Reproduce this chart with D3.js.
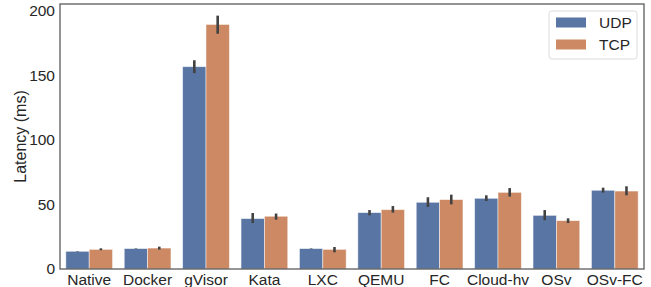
<!DOCTYPE html>
<html>
<head>
<meta charset="utf-8">
<script src="https://cdn.jsdelivr.net/npm/d3@7.9.0/dist/d3.min.js"></script>
<style>
  body { margin: 0; background: #fff; }
  svg { display: block; font-family: "Liberation Sans", Arial, sans-serif; }
</style>
</head>
<body>
<svg id="chart" width="651" height="287"></svg>
<script>
const categories = ['Native', 'Docker', 'gVisor', 'Kata', 'LXC', 'QEMU', 'FC', 'Cloud-hv', 'OSv', 'OSv-FC'];
const series = ['UDP', 'TCP'];
const udpValues = [13.7, 15.8, 156.5, 39.0, 15.8, 43.6, 51.6, 54.7, 41.5, 60.9];
const tcpValues = [15.2, 16.2, 189.2, 40.8, 15.2, 45.9, 53.7, 59.3, 37.4, 60.3];
// error bar ranges [low, high]
const udpErr = [[13.5, 13.9], [15.6, 16.0], [151.5, 161.5], [35.6, 43.3], [15.6, 16.0], [41.5, 45.6], [48.0, 55.5], [52.6, 57.0], [37.7, 45.6], [59.1, 62.9]];
const tcpErr = [[14.5, 16.0], [15.0, 17.3], [182.0, 196.0], [38.2, 42.9], [12.9, 17.0], [43.6, 48.7], [50.0, 57.5], [56.0, 62.6], [35.6, 39.2], [57.0, 64.0]];
const yTicks = [0, 50, 100, 150, 200];
const colors = ['#5975a4', '#cc8963'];

const margin = { left: 60, right: 7, top: 4, bottom: 18 };
const width = 651, height = 287;
const svg = d3.select('#chart');

const x = d3.scaleBand().domain(categories).range([margin.left, width - margin.right]).paddingInner(0).paddingOuter(0);
const xSub = d3.scaleBand().domain(series).range([0, x.bandwidth()]).paddingOuter(0.25);
const y = d3.scaleLinear().domain([0, 205]).range([height - margin.bottom, margin.top]);

const rows = categories.map((c, i) => ({
  cat: c,
  vals: [
    { s: 'UDP', v: udpValues[i], e: udpErr[i] },
    { s: 'TCP', v: tcpValues[i], e: tcpErr[i] }
  ]
}));

const groups = svg.selectAll('g.grp').data(rows).enter().append('g')
  .attr('transform', d => `translate(${x(d.cat)},0)`);

groups.selectAll('rect').data(d => d.vals).enter().append('rect')
  .attr('x', d => xSub(d.s))
  .attr('width', xSub.bandwidth())
  .attr('y', d => y(d.v))
  .attr('height', d => y(0) - y(d.v))
  .attr('fill', (d, i) => colors[i])
  .attr('stroke', '#fff')
  .attr('stroke-opacity', 0.6)
  .attr('stroke-width', 0.8);

groups.selectAll('line.err').data(d => d.vals).enter().append('line')
  .attr('class', 'err')
  .attr('x1', d => xSub(d.s) + xSub.bandwidth() / 2)
  .attr('x2', d => xSub(d.s) + xSub.bandwidth() / 2)
  .attr('y1', d => y(d.e[0]))
  .attr('y2', d => y(d.e[1]))
  .attr('stroke', '#424242')
  .attr('stroke-width', 2.6);

// frame
svg.append('rect')
  .attr('x', margin.left).attr('y', margin.top)
  .attr('width', width - margin.left - margin.right)
  .attr('height', y(0) - margin.top)
  .attr('fill', 'none')
  .attr('stroke', '#555')
  .attr('stroke-width', 1.25);

// axes
const yAxis = svg.append('g')
  .attr('transform', `translate(${margin.left},0)`)
  .call(d3.axisLeft(y).tickValues(yTicks).tickSize(0).tickPadding(5));
yAxis.select('.domain').remove();
yAxis.selectAll('text').attr('font-size', 15.5).attr('fill', '#262626').attr('font-family', '"Liberation Sans", Arial, sans-serif');

const xAxis = svg.append('g')
  .attr('transform', `translate(0,${y(0)})`)
  .call(d3.axisBottom(x).tickSize(0).tickPadding(5));
xAxis.select('.domain').remove();
xAxis.selectAll('text').attr('font-size', 15.5).attr('fill', '#262626').attr('font-family', '"Liberation Sans", Arial, sans-serif');

svg.append('text')
  .attr('transform', `translate(26,${(margin.top + y(0)) / 2}) rotate(-90)`)
  .attr('text-anchor', 'middle')
  .attr('font-size', 16)
  .attr('fill', '#262626')
  .text('Latency (ms)');

// legend
const lg = svg.append('g').attr('transform', 'translate(549,11)');
lg.append('rect')
  .attr('width', 88).attr('height', 48).attr('rx', 3)
  .attr('fill', '#fff').attr('fill-opacity', 0.8)
  .attr('stroke', '#dcdcdc').attr('stroke-width', 1);
series.forEach((s, i) => {
  lg.append('rect').attr('x', 7).attr('y', 6.5 + i * 22).attr('width', 30).attr('height', 10).attr('fill', colors[i]);
  lg.append('text').attr('x', 50).attr('y', 11.5 + i * 22).attr('dy', '0.35em')
    .attr('font-size', 15.5).attr('fill', '#262626').text(s);
});
</script>
</body>
</html>
